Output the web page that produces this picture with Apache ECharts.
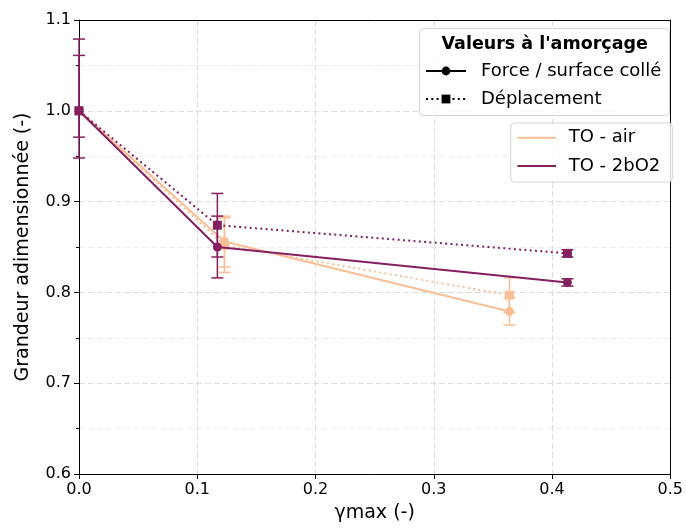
<!DOCTYPE html>
<html>
<head>
<meta charset="utf-8">
<script src="https://cdn.jsdelivr.net/npm/echarts@6/dist/echarts.min.js"></script>
<style>html,body{margin:0;padding:0;background:#fff;}#c{width:686px;height:528px;}</style>
</head>
<body>
<div id="c"></div>
<script>
// ---- data ----
const xTicks = [0.0, 0.1, 0.2, 0.3, 0.4, 0.5];
const yTicks = [0.6, 0.7, 0.8, 0.9, 1.0, 1.1];

const xAir = [0.0, 0.123, 0.364];
const forceAir = [1.0, 0.856, 0.779];
const forceAirErrLow = [0.0, 0.028, 0.015];
const forceAirErrHigh = [0.0, 0.028, 0.015];
const deplAir = [1.0, 0.852, 0.797];
const deplAirErrLow = [0.0, 0.030, 0.019];
const deplAirErrHigh = [0.0, 0.030, 0.019];

const x2bO2 = [0.0, 0.117, 0.413];
const force2bO2 = [1.0, 0.850, 0.811];
const force2bO2ErrLow = [0.029, 0.034, 0.004];
const force2bO2ErrHigh = [0.061, 0.034, 0.004];
const depl2bO2 = [1.0, 0.874, 0.843];
const depl2bO2ErrLow = [0.052, 0.035, 0.004];
const depl2bO2ErrHigh = [0.079, 0.035, 0.004];

const cAir = '#f8bf96';
const c2bO2 = '#84205f';
const FONT = 'DejaVu Sans';

function pts(xs, ys) { return xs.map((x, i) => [x, ys[i]]); }
function errs(xs, ys, lo, hi) { return xs.map((x, i) => [x, ys[i] - lo[i], ys[i] + hi[i]]); }

function errSeries(name, data, color, z) {
  return {
    name: name, type: 'custom', z: z, silent: true,
    data: data,
    renderItem: function (params, api) {
      const x = api.value(0), lo = api.value(1), hi = api.value(2);
      if (hi - lo <= 0) return null;
      const pt = api.coord([x, hi]), pb = api.coord([x, lo]);
      const hw = 6;
      const st = { stroke: color, lineWidth: 1.5 };
      return {
        type: 'group',
        children: [
          { type: 'line', shape: { x1: pt[0], y1: pt[1], x2: pb[0], y2: pb[1] }, style: st },
          { type: 'line', shape: { x1: pt[0] - hw, y1: pt[1], x2: pt[0] + hw, y2: pt[1] }, style: st },
          { type: 'line', shape: { x1: pb[0] - hw, y1: pb[1], x2: pb[0] + hw, y2: pb[1] }, style: st }
        ]
      };
    }
  };
}

function lineSeries(name, data, color, symbol, dotted, z) {
  return {
    name: name, type: 'line', data: data, z: z,
    symbol: symbol, symbolSize: 9,
    showSymbol: true, silent: true,
    itemStyle: { color: color },
    lineStyle: { color: color, width: 2, type: dotted ? [2, 3.3] : 'solid' },
    animation: false
  };
}

const chart = echarts.init(document.getElementById('c'), null, { renderer: 'canvas' });

const frameAxis = {
  type: 'value', show: true,
  axisLine: { show: true, onZero: false, lineStyle: { color: '#000', width: 1 } },
  axisTick: { show: false }, axisLabel: { show: false }, splitLine: { show: false }
};

const option = {
  animation: false,
  backgroundColor: '#fff',
  textStyle: { fontFamily: FONT },
  grid: { left: 79, right: 13, top: 20, bottom: 53 },
  xAxis: [{
    type: 'value', min: xTicks[0], max: xTicks[xTicks.length - 1], interval: 0.1,
    name: 'γmax (-)', nameLocation: 'middle', nameGap: 30,
    nameTextStyle: { fontSize: 19, color: '#000', fontFamily: FONT },
    axisLine: { show: true, onZero: false, lineStyle: { color: '#000', width: 1 } },
    axisTick: { show: true, length: 5, lineStyle: { color: '#000' } },
    axisLabel: { fontSize: 16, color: '#000', margin: 8, fontFamily: FONT, formatter: v => v.toFixed(1) },
    splitLine: { show: true, lineStyle: { color: '#dcdcdc', type: [6, 3], width: 1 } }
  }, Object.assign({}, frameAxis, { position: 'top', min: xTicks[0], max: xTicks[xTicks.length - 1] })],
  yAxis: [{
    type: 'value', min: yTicks[0], max: yTicks[yTicks.length - 1], interval: 0.1,
    name: 'Grandeur adimensionnée (-)', nameLocation: 'middle', nameGap: 46, nameRotate: 90,
    nameTextStyle: { fontSize: 19, color: '#000', fontFamily: FONT },
    axisLine: { show: true, onZero: false, lineStyle: { color: '#000', width: 1 } },
    axisTick: { show: true, length: 5, lineStyle: { color: '#000' } },
    minorTick: { show: true, splitNumber: 2, length: 3, lineStyle: { color: '#000' } },
    axisLabel: { fontSize: 16, color: '#000', margin: 8, fontFamily: FONT, formatter: v => v.toFixed(1) },
    splitLine: { show: true, lineStyle: { color: '#dcdcdc', type: [6, 3], width: 1 } },
    minorSplitLine: { show: true, lineStyle: { color: '#ececec', type: [6, 3], width: 1 } }
  }, Object.assign({}, frameAxis, { position: 'right', min: yTicks[0], max: yTicks[yTicks.length - 1] })],
  legend: [
    {
      data: ['Force / surface collé', 'Déplacement'],
      orient: 'vertical', left: 419.5, top: 28.5,
      padding: [33.5, 8, 7.6, 5.5], itemGap: 10,
      itemWidth: 40, itemHeight: 11,
      backgroundColor: 'rgba(255,255,255,0.85)', borderColor: '#d4d4d4', borderWidth: 1, borderRadius: 4,
      textStyle: { fontSize: 18, color: '#000', fontFamily: FONT, padding: [0, 0, 0, 10], lineHeight: 18 },
      selectedMode: false
    },
    {
      data: [{ name: 'TO - air', icon: 'rect' }, { name: 'TO - 2bO2', icon: 'rect' }],
      orient: 'vertical', left: 510.7, top: 123,
      padding: [5.7, 12, 7, 6.8], itemGap: 10.3,
      itemWidth: 38.5, itemHeight: 2,
      backgroundColor: 'rgba(255,255,255,0.85)', borderColor: '#d4d4d4', borderWidth: 1, borderRadius: 4,
      textStyle: { fontSize: 18, color: '#000', fontFamily: FONT, padding: [0, 0, 0, 7.7], lineHeight: 18 },
      selectedMode: false
    }
  ],
  graphic: [
    {
      type: 'text', left: 441.5, top: 35, z: 100,
      style: { text: "Valeurs à l'amorçage", font: 'bold 17.5px "DejaVu Sans"', fill: '#000' }
    }
  ],
  series: [
    // legend-only series
    { name: 'Force / surface collé', type: 'line', data: [], symbol: 'circle', symbolSize: 9,
      itemStyle: { color: '#000' }, lineStyle: { color: '#000', width: 2, type: 'solid' } },
    { name: 'Déplacement', type: 'line', data: [], symbol: 'rect', symbolSize: 9,
      itemStyle: { color: '#000' }, lineStyle: { color: '#000', width: 2, type: [2, 3.3] } },
    { name: 'TO - air', type: 'line', data: [], symbol: 'none',
      itemStyle: { color: cAir }, lineStyle: { color: cAir, width: 2 } },
    { name: 'TO - 2bO2', type: 'line', data: [], symbol: 'none',
      itemStyle: { color: c2bO2 }, lineStyle: { color: c2bO2, width: 2 } },

    // air
    errSeries('errForceAir', errs(xAir, forceAir, forceAirErrLow, forceAirErrHigh), cAir, 2),
    lineSeries('forceAir', pts(xAir, forceAir), cAir, 'circle', false, 3),
    errSeries('errDeplAir', errs(xAir, deplAir, deplAirErrLow, deplAirErrHigh), cAir, 2),
    lineSeries('deplAir', pts(xAir, deplAir), cAir, 'rect', true, 3),
    // 2bO2
    errSeries('errForce2bO2', errs(x2bO2, force2bO2, force2bO2ErrLow, force2bO2ErrHigh), c2bO2, 4),
    lineSeries('force2bO2', pts(x2bO2, force2bO2), c2bO2, 'circle', false, 5),
    errSeries('errDepl2bO2', errs(x2bO2, depl2bO2, depl2bO2ErrLow, depl2bO2ErrHigh), c2bO2, 4),
    lineSeries('depl2bO2', pts(x2bO2, depl2bO2), c2bO2, 'rect', true, 5)
  ]
};
chart.setOption(option);
</script>
</body>
</html>
